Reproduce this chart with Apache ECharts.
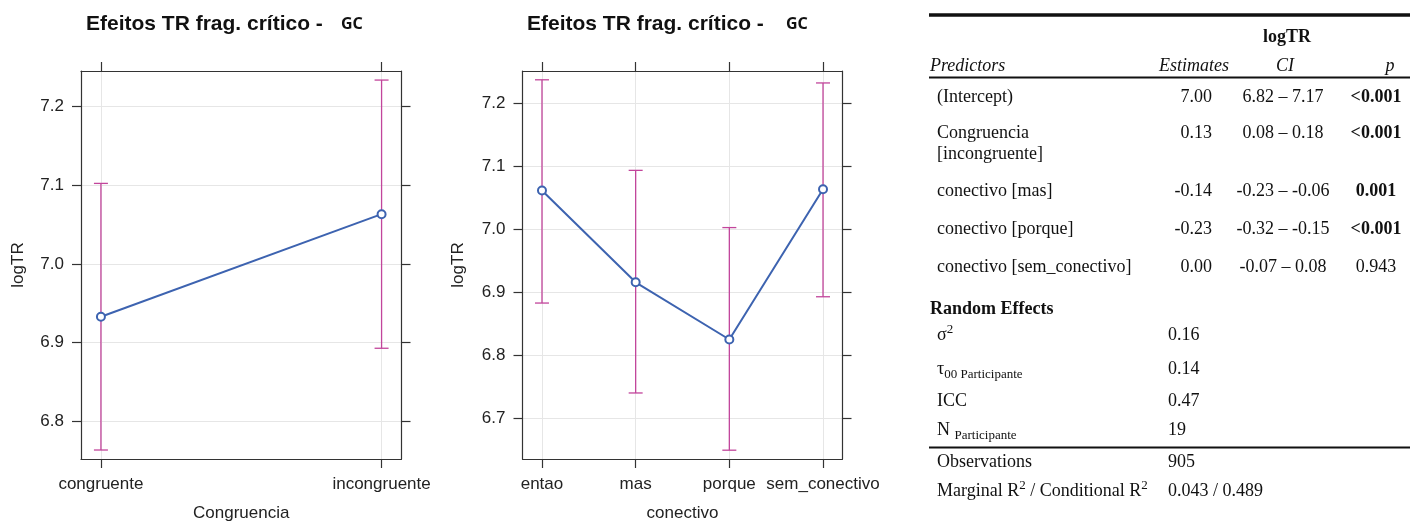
<!DOCTYPE html>
<html>
<head>
<meta charset="utf-8">
<script src="https://cdn.jsdelivr.net/npm/echarts@6.0.0/dist/echarts.min.js"></script>
<style>
  html, body { margin: 0; padding: 0; background: #fff; }
  #chart { width: 1418px; height: 523px; }
</style>
</head>
<body>
<div id="chart"></div>
<script>
// ---- Effect plot 1: Congruencia ----
const congCategories = ['congruente', 'incongruente'];
const congFit = [6.933, 7.063];
const congLower = [6.764, 6.893];
const congUpper = [7.102, 7.233];

// ---- Effect plot 2: conectivo ----
const conCategories = ['entao', 'mas', 'porque', 'sem_conectivo'];
const conFit = [7.062, 6.916, 6.825, 7.064];
const conLower = [6.883, 6.740, 6.649, 6.893];
const conUpper = [7.238, 7.094, 7.003, 7.233];

const congTicks = [6.8, 6.9, 7.0, 7.1, 7.2];
const conTicks = [6.7, 6.8, 6.9, 7.0, 7.1, 7.2];

const plotTitle = 'Efeitos TR frag. crítico -';
const plotTag = 'GC';
const yName = 'logTR';

// ---- Model table ----
const tableHeader = ['Predictors', 'Estimates', 'CI', 'p'];
const dvName = 'logTR';
const predictorLines = [
  ['(Intercept)'],
  ['Congruencia', '[incongruente]'],
  ['conectivo [mas]'],
  ['conectivo [porque]'],
  ['conectivo [sem_conectivo]']
];
const estimates = ['7.00', '0.13', '-0.14', '-0.23', '0.00'];
const ciText = ['6.82 – 7.17', '0.08 – 0.18', '-0.23 – -0.06', '-0.32 – -0.15', '-0.07 – 0.08'];
const pValues = ['<0.001', '<0.001', '0.001', '<0.001', '0.943'];
const pBold = [true, true, true, true, false];
const randomTitle = 'Random Effects';
// label pieces: [text, 'sup' | 'sub' | '']
const randomLabels = [
  [['σ', ''], ['2', 'sup']],
  [['τ', ''], ['00 Participante', 'sub']],
  [['ICC', '']],
  [['N ', ''], ['Participante', 'sub']]
];
const randomValues = ['0.16', '0.14', '0.47', '19'];
const obsLabel = 'Observations';
const nObs = '905';
const r2Label = [['Marginal R', ''], ['2', 'sup'], [' / Conditional R', ''], ['2', 'sup']];
const r2Text = '0.043 / 0.489';

const BLUE = '#3d63b0';
const PINK = '#c2459b';
const FRAME = '#333333';
const GRIDC = '#e6e6e6';
const SANS = '"Liberation Sans", Arial, sans-serif';
const SERIF = '"Liberation Serif", "Times New Roman", serif';
const TSIZE = 18;
const SMALL = 13;

const chart = echarts.init(document.getElementById('chart'), null, { renderer: 'canvas' });

function pairs(fit) { return fit.map((v, i) => [i + 1, v]); }
function bars(lo, hi) { return lo.map((v, i) => [i + 1, v, hi[i]]); }

function errorBarRender(params, api) {
  const x = api.value(0);
  const p1 = api.coord([x, api.value(2)]);
  const p2 = api.coord([x, api.value(1)]);
  const w = 7;
  const st = { stroke: PINK, lineWidth: 1.3 };
  return {
    type: 'group',
    children: [
      { type: 'line', shape: { x1: p1[0], y1: p1[1], x2: p2[0], y2: p2[1] }, style: st },
      { type: 'line', shape: { x1: p1[0] - w, y1: p1[1], x2: p1[0] + w, y2: p1[1] }, style: st },
      { type: 'line', shape: { x1: p2[0] - w, y1: p2[1], x2: p2[0] + w, y2: p2[1] }, style: st }
    ]
  };
}

function xAxes(gridIndex, cats, min, max, name) {
  const vals = cats.map((c, i) => i + 1);
  const common = {
    type: 'value', gridIndex, min, max,
    axisLine: { show: true, onZero: false, lineStyle: { color: FRAME, width: 1.2 } },
    axisTick: { show: true, inside: false, length: 9, customValues: vals, lineStyle: { color: FRAME, width: 1.2 } }
  };
  return [
    Object.assign({}, common, {
      position: 'bottom',
      name, nameLocation: 'middle', nameGap: 46,
      nameTextStyle: { fontFamily: SANS, fontSize: 17, color: '#222' },
      axisLabel: { show: true, customValues: vals, margin: 17, fontFamily: SANS, fontSize: 17, color: '#222',
        formatter: v => cats[Math.round(v) - 1] || '' },
      splitLine: { show: true, lineStyle: { color: GRIDC, width: 1 } }
    }),
    Object.assign({}, common, {
      position: 'top',
      axisLabel: { show: false },
      splitLine: { show: false }
    })
  ];
}

function yAxes(gridIndex, ticks, min, max, nameGap) {
  const common = {
    type: 'value', gridIndex, min, max,
    axisLine: { show: true, onZero: false, lineStyle: { color: FRAME, width: 1.2 } },
    axisTick: { show: true, inside: false, length: 9, customValues: ticks, lineStyle: { color: FRAME, width: 1.2 } }
  };
  return [
    Object.assign({}, common, {
      position: 'left',
      name: yName, nameLocation: 'middle', nameGap,
      nameTextStyle: { fontFamily: SANS, fontSize: 17, color: '#222' },
      axisLabel: { show: true, customValues: ticks, margin: 17, fontFamily: SANS, fontSize: 17, color: '#222',
        formatter: v => v.toFixed(1) },
      splitLine: { show: true, lineStyle: { color: GRIDC, width: 1 } }
    }),
    Object.assign({}, common, {
      position: 'right',
      axisLabel: { show: false },
      splitLine: { show: false }
    })
  ];
}

// ---- table graphics ----
const measureCtx = document.createElement('canvas').getContext('2d');
function fontOf(opts) {
  const size = opts.size || TSIZE;
  return (opts.italic ? 'italic ' : '') + (opts.bold ? 'bold ' : '') + size + 'px ' + SERIF;
}
const graphics = [];
function txt(x, y, text, opts) {
  opts = opts || {};
  graphics.push({
    type: 'text', x, y, silent: true,
    style: {
      text, font: fontOf(opts), fill: '#111',
      textAlign: opts.align || 'left', align: opts.align || 'left',
      textVerticalAlign: 'middle', verticalAlign: 'middle'
    }
  });
}
// writes a run of pieces left to right, raising superscripts and lowering subscripts
function flow(x, y, pieces) {
  let cx = x;
  pieces.forEach(([t, kind]) => {
    const opts = kind ? { size: SMALL } : {};
    const dy = kind === 'sup' ? -5 : kind === 'sub' ? 6 : 0;
    txt(cx, y + dy, t, opts);
    measureCtx.font = fontOf(opts);
    cx += measureCtx.measureText(t).width;
  });
}
function hline(y, w) {
  graphics.push({ type: 'line', silent: true, shape: { x1: 929, y1: y, x2: 1410, y2: y },
    style: { stroke: '#111', lineWidth: w } });
}

hline(15, 3.5);
txt(1287, 37, dvName, { bold: true, align: 'center' });
txt(930, 66, tableHeader[0], { italic: true });
txt(1194, 66, tableHeader[1], { italic: true, align: 'center' });
txt(1285, 66, tableHeader[2], { italic: true, align: 'center' });
txt(1390, 66, tableHeader[3], { italic: true, align: 'center' });
hline(77.5, 1.8);

const rowY = [97, 133, 191, 229, 267];
predictorLines.forEach((lines, i) => {
  lines.forEach((l, j) => txt(937, rowY[i] + j * 21.5, l));
  txt(1212, rowY[i], estimates[i], { align: 'right' });
  txt(1283, rowY[i], ciText[i], { align: 'center' });
  txt(1376, rowY[i], pValues[i], { align: 'center', bold: pBold[i] });
});

txt(930, 309, randomTitle, { bold: true });
const reY = [335, 369, 401, 430];
randomLabels.forEach((pieces, i) => flow(937, reY[i], pieces));
randomValues.forEach((v, i) => txt(1168, reY[i], v));

hline(447.5, 1.8);
txt(937, 462, obsLabel);
txt(1168, 462, nObs);
flow(937, 491, r2Label);
txt(1168, 491, r2Text);

const titleStyle = { fontFamily: SANS, fontSize: 21, fontWeight: 'bold', color: '#111' };
const tagStyle = { fontFamily: '"Noto Sans", "DejaVu Sans", sans-serif', fontSize: 16, fontWeight: 'bold', color: '#111' };

const option = {
  backgroundColor: '#ffffff',
  animation: false,
  title: [
    { text: plotTitle, left: 86, top: 14, padding: 0, textStyle: titleStyle },
    { text: plotTag, left: 341, top: 16, padding: 0, textStyle: tagStyle },
    { text: plotTitle, left: 527, top: 14, padding: 0, textStyle: titleStyle },
    { text: plotTag, left: 786, top: 16, padding: 0, textStyle: tagStyle }
  ],
  grid: [
    { left: 81, top: 71, width: 320.5, height: 388, containLabel: false, outerBoundsMode: 'none' },
    { left: 522.5, top: 71, width: 320, height: 388, containLabel: false, outerBoundsMode: 'none' }
  ],
  xAxis: [
    ...xAxes(0, congCategories, 0.929, 2.071, 'Congruencia'),
    ...xAxes(1, conCategories, 0.792, 4.208, 'conectivo')
  ],
  yAxis: [
    ...yAxes(0, congTicks, 6.7526, 7.2445, 54),
    ...yAxes(1, conTicks, 6.635, 7.252, 56)
  ],
  series: [
    { type: 'custom', xAxisIndex: 0, yAxisIndex: 0, z: 2, renderItem: errorBarRender,
      encode: { x: 0, y: [1, 2] }, data: bars(congLower, congUpper) },
    { type: 'line', xAxisIndex: 0, yAxisIndex: 0, z: 3, data: pairs(congFit),
      symbol: 'emptyCircle', symbolSize: 8,
      lineStyle: { color: BLUE, width: 2 }, itemStyle: { color: BLUE, borderWidth: 1.6 } },
    { type: 'custom', xAxisIndex: 2, yAxisIndex: 2, z: 2, renderItem: errorBarRender,
      encode: { x: 0, y: [1, 2] }, data: bars(conLower, conUpper) },
    { type: 'line', xAxisIndex: 2, yAxisIndex: 2, z: 3, data: pairs(conFit),
      symbol: 'emptyCircle', symbolSize: 8,
      lineStyle: { color: BLUE, width: 2 }, itemStyle: { color: BLUE, borderWidth: 1.6 } }
  ],
  graphic: graphics
};

chart.setOption(option);
</script>
</body>
</html>
